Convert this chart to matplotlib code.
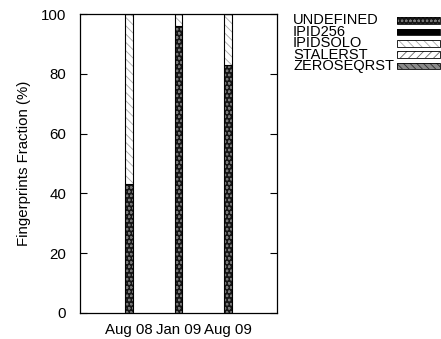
import numpy as np
import matplotlib.pyplot as plt
from matplotlib.patches import Rectangle

plt.rcParams['font.family'] = ['Liberation Sans', 'DejaVu Sans']
plt.rcParams['hatch.linewidth'] = 0.6

# data (percent of fingerprints)
periods = ['Aug 08', 'Jan 09', 'Aug 09']
undefined = [43, 96, 83]
ipid256 = [0, 0, 0]
ipidsolo = [57, 4, 17]
stalerst = [0, 0, 0]
zeroseqrst = [0, 0, 0]

series = [
	('UNDEFINED', undefined, '#151515', '#777777', 'oooo'),
	('IPID256', ipid256, 'black', 'black', None),
	('IPIDSOLO', ipidsolo, 'white', '#a8a8a8', '\\\\\\\\'),
	('STALERST', stalerst, 'white', '#666666', '////'),
	('ZEROSEQRST', zeroseqrst, '#8a8a8a', '#303030', '\\\\\\\\\\'),
]

fs = 10.8

fig = plt.figure(figsize=(4.41, 3.39), dpi=100)
ax = fig.add_axes([80/441, 1-313/339, 197/441, 299/339])

x = np.arange(1, len(periods)+1)
width = 0.16
bottom = np.zeros(len(periods))
for name, vals, face, hc, hatch in series:
	vals = np.array(vals, dtype=float)
	ax.bar(x, vals, width, bottom=bottom, color=face, edgecolor=hc, hatch=hatch, linewidth=0)
	ax.bar(x, vals, width, bottom=bottom, fill=False, edgecolor='black', linewidth=0.8)
	bottom += vals

ax.set_xlim(0, 4)
ax.set_ylim(0, 100)
ax.set_xticks(x)
ax.set_xticklabels(periods, fontsize=fs)
ax.set_yticks(range(0, 101, 20))
ax.tick_params(axis='y', direction='in', length=5, right=True, labelsize=fs, pad=10)
ax.tick_params(axis='x', length=0, pad=7)
ax.set_ylabel('Fingerprints Fraction (%)', fontsize=fs, labelpad=7)
for s in ax.spines.values():
	s.set_linewidth(0.9)

# legend, gnuplot style: text left, swatch on the right
ys = [20.5, 32, 43.3, 54.6, 66]
for (name, vals, face, hc, hatch), yy in zip(series, ys):
	fig.text(293/441, 1-yy/339, name, fontsize=10.5, va='center', ha='left')
	r = Rectangle((397/441, 1-(yy+3.2)/339), 43/441, 6.4/339, transform=fig.transFigure,
		facecolor=face, edgecolor=hc, hatch=hatch, linewidth=0)
	fig.add_artist(r)
	fig.add_artist(Rectangle((397/441, 1-(yy+3.2)/339), 43/441, 6.4/339, transform=fig.transFigure,
		fill=False, edgecolor='black', linewidth=0.6))

fig.savefig('out.png', dpi=100)
